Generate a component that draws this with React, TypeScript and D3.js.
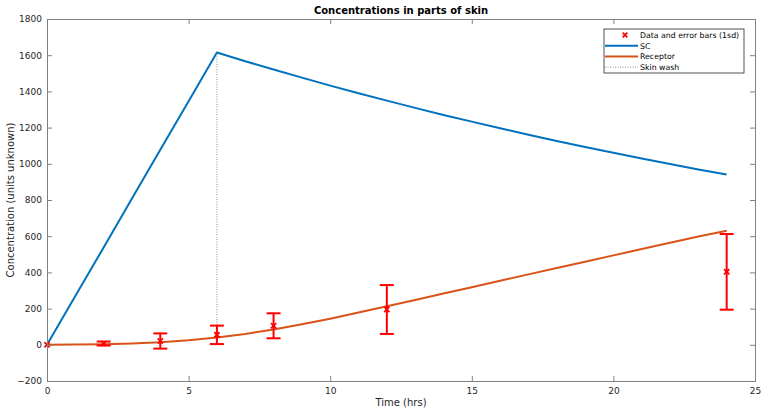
import { useEffect, useRef } from "react";
import * as d3 from "d3";

const WIDTH = 761;
const HEIGHT = 410;
const MARGIN = { top: 19, right: 6, bottom: 29, left: 47 };

// model curves
const scTimes = [0, 1, 2, 3, 4, 5, 6, 7, 8, 9, 10, 11, 12, 13, 14, 15, 16, 17, 18, 19, 20, 21, 22, 23, 24];
const scValues = [0, 269, 538, 808, 1077, 1346, 1615, 1567, 1521, 1476, 1432, 1390, 1349, 1309, 1270, 1233, 1196, 1161, 1126, 1093, 1061, 1029, 999, 969, 941];
const receptorTimes = [0, 1, 2, 3, 4, 5, 6, 7, 8, 9, 10, 11, 12, 13, 14, 15, 16, 17, 18, 19, 20, 21, 22, 23, 24];
const receptorValues = [0, 1, 3, 7, 14, 25, 40, 60, 85, 113, 144, 178, 213, 248, 283, 318, 354, 389, 424, 459, 494, 529, 564, 598, 630];

// measured data (mean, 1 sd)
const dataTimes = [0, 2, 4, 6, 8, 12, 24];
const dataMeans = [0, 7, 21, 55, 105, 195, 403];
const dataSd = [0, 11, 42, 51, 69, 135, 209];

const washTime = 6;
const washRange = [40, 1615];

const xTicks = [0, 5, 10, 15, 20, 25];
const yTicks = [-200, 0, 200, 400, 600, 800, 1000, 1200, 1400, 1600, 1800];

const legendItems = ["Data and error bars (1sd)", "SC", "Receptor", "Skin wash"];

const BLUE = "#0072BD";
const ORANGE = "#D95319";
const RED = "#ff0000";
const AXIS = "#808080";
const TEXT = "#262626";
const FONT = "DejaVu Sans, sans-serif";

const Cross = ({ x, y, s = 3 }: { x: number; y: number; s?: number }) => (
  <g stroke={RED} strokeWidth={1.8}>
    <line x1={x - s} y1={y - s} x2={x + s} y2={y + s} />
    <line x1={x - s} y1={y + s} x2={x + s} y2={y - s} />
  </g>
);

export default function App() {
  const axesRef = useRef<SVGGElement | null>(null);
  const boundsWidth = WIDTH - MARGIN.left - MARGIN.right;
  const boundsHeight = HEIGHT - MARGIN.top - MARGIN.bottom;

  const xScale = d3.scaleLinear().domain([0, 25]).range([0, boundsWidth]);
  const yScale = d3.scaleLinear().domain([-200, 1800]).range([boundsHeight, 0]);

  const lineGen = d3
    .line<[number, number]>()
    .x((d) => xScale(d[0]))
    .y((d) => yScale(d[1]));

  const scPath = lineGen(scTimes.map((t, i) => [t, scValues[i]] as [number, number])) || "";
  const recPath = lineGen(receptorTimes.map((t, i) => [t, receptorValues[i]] as [number, number])) || "";

  // axes drawn by d3, MATLAB style: ticks inside, box on
  useEffect(() => {
    const g = d3.select(axesRef.current);
    g.selectAll("*").remove();

    const bottom = g
      .append("g")
      .attr("transform", `translate(0,${boundsHeight})`)
      .call(d3.axisBottom(xScale).tickValues(xTicks).tickSize(-5).tickPadding(5).tickFormat(d3.format("d")));
    g.append("g")
      .call(d3.axisLeft(yScale).tickValues(yTicks).tickSize(-5).tickPadding(5).tickFormat(d3.format("d")));
    g.append("g")
      .call(d3.axisTop(xScale).tickValues(xTicks).tickSize(-5).tickFormat(() => ""));
    g.append("g")
      .attr("transform", `translate(${boundsWidth},0)`)
      .call(d3.axisRight(yScale).tickValues(yTicks).tickSize(-5).tickFormat(() => ""));

    g.selectAll(".domain").attr("stroke", AXIS);
    g.selectAll(".tick line").attr("stroke", AXIS);
    g.selectAll(".tick text").attr("fill", TEXT).attr("font-size", 9).attr("font-family", FONT);
    bottom.selectAll(".tick text").attr("dy", "0.9em");
  }, []);

  const capW = 7;

  return (
    <svg width={WIDTH} height={HEIGHT} style={{ position: "absolute", left: 0, top: 0, background: "#fff" }}>
      <rect x={0} y={0} width={WIDTH} height={HEIGHT} fill="#fff" />
      <text x={MARGIN.left + boundsWidth / 2} y={14} textAnchor="middle" fontFamily={FONT} fontWeight="bold" fontSize={10} fill="#000">
        Concentrations in parts of skin
      </text>
      <g transform={`translate(${MARGIN.left},${MARGIN.top})`}>
        <path d={scPath} fill="none" stroke={BLUE} strokeWidth={2} strokeLinejoin="round" />
        <path d={recPath} fill="none" stroke={ORANGE} strokeWidth={2} strokeLinejoin="round" />
        <line
          x1={xScale(washTime)}
          x2={xScale(washTime)}
          y1={yScale(washRange[0])}
          y2={yScale(washRange[1])}
          stroke="#8c8c8c"
          strokeWidth={1}
          strokeDasharray="1,1.5"
        />
        {dataTimes.map((t, i) => {
          const x = xScale(t);
          const top = yScale(dataMeans[i] + dataSd[i]);
          const bot = yScale(dataMeans[i] - dataSd[i]);
          return (
            <g key={i}>
              {dataSd[i] > 0 && (
                <g stroke={RED} strokeWidth={2}>
                  <line x1={x} x2={x} y1={top} y2={bot} />
                  <line x1={x - capW} x2={x + capW} y1={top} y2={top} />
                  <line x1={x - capW} x2={x + capW} y1={bot} y2={bot} />
                </g>
              )}
              <Cross x={x} y={yScale(dataMeans[i])} s={2.6} />
            </g>
          );
        })}
      </g>
      <g ref={axesRef} transform={`translate(${MARGIN.left},${MARGIN.top})`} />

      <text
        transform={`translate(14,${MARGIN.top + boundsHeight / 2}) rotate(-90)`}
        textAnchor="middle"
        fontFamily={FONT}
        fontSize={10}
        fill={TEXT}
      >
        Concentration (units unknown)
      </text>
      <text x={MARGIN.left + boundsWidth / 2} y={406} textAnchor="middle" fontFamily={FONT} fontSize={10} fill={TEXT}>
        Time (hrs)
      </text>

      <g transform="translate(604,29)">
        <rect x={0} y={0} width={140} height={44} fill="#fff" stroke="#262626" strokeWidth={0.8} />
        {legendItems.map((label, i) => {
          const cy = 6 + i * 10.7;
          return (
            <g key={label}>
              {i === 0 && <Cross x={21} y={cy} s={2.3} />}
              {i === 1 && <line x1={1} x2={34} y1={cy} y2={cy} stroke={BLUE} strokeWidth={2} />}
              {i === 2 && <line x1={1} x2={34} y1={cy} y2={cy} stroke={ORANGE} strokeWidth={2} />}
              {i === 3 && <line x1={1} x2={34} y1={cy} y2={cy} stroke="#8c8c8c" strokeWidth={1} strokeDasharray="1,1.5" />}
              <text x={36} y={cy + 3} fontFamily={FONT} fontSize={7.8} fill="#000">
                {label}
              </text>
            </g>
          );
        })}
      </g>
    </svg>
  );
}
